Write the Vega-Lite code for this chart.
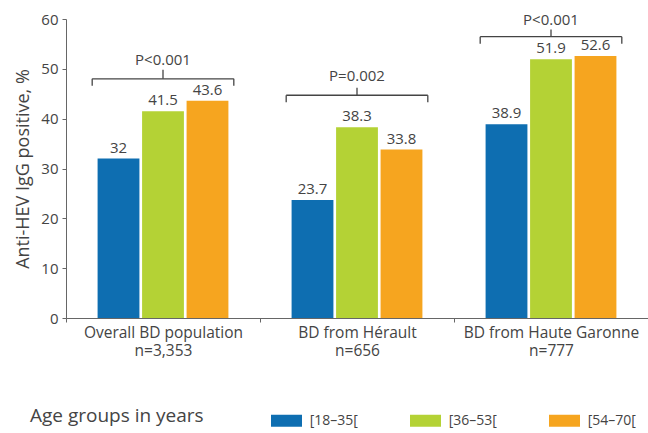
{
  "$schema": "https://vega.github.io/schema/vega-lite/v6.json",
  "width": 582,
  "height": 299,
  "autosize": {"type": "none"},
  "padding": {"left": 66, "top": 19, "right": 0, "bottom": 115},
  "background": "white",
  "config": {"view": {"stroke": null}, "font": "Open Sans"},
  "datasets": {
    "bars": [
      {"group": "Overall BD population|n=3,353", "age": "[18–35[", "value": 32},
      {"group": "Overall BD population|n=3,353", "age": "[36–53[", "value": 41.5},
      {"group": "Overall BD population|n=3,353", "age": "[54–70[", "value": 43.6},
      {"group": "BD from Hérault|n=656", "age": "[18–35[", "value": 23.7},
      {"group": "BD from Hérault|n=656", "age": "[36–53[", "value": 38.3},
      {"group": "BD from Hérault|n=656", "age": "[54–70[", "value": 33.8},
      {"group": "BD from Haute Garonne|n=777", "age": "[18–35[", "value": 38.9},
      {"group": "BD from Haute Garonne|n=777", "age": "[36–53[", "value": 51.9},
      {"group": "BD from Haute Garonne|n=777", "age": "[54–70[", "value": 52.6}
    ],
    "brackets": [
      {"group": "Overall BD population|n=3,353", "p": "P<0.001", "yb": 48.0, "ye": 46.6, "yt": 49.8, "ytext": 50.8},
      {"group": "BD from Hérault|n=656", "p": "P=0.002", "yb": 44.7, "ye": 43.3, "yt": 46.2, "ytext": 47.6},
      {"group": "BD from Haute Garonne|n=777", "p": "P<0.001", "yb": 56.45, "ye": 55.05, "yt": 57.9, "ytext": 58.8}
    ]
  },
  "layer": [
    {
      "data": {"name": "bars"},
      "mark": {"type": "bar"},
      "encoding": {
        "x": {
          "field": "group", "type": "nominal", "sort": null,
          "scale": {"paddingInner": 0, "paddingOuter": 0},
          "axis": {
            "title": null,
            "labelExpr": "split(datum.label, '|')",
            "labelAngle": 0,
            "labelFontSize": 15.5,
            "labelColor": "#444444",
            "labelLineHeight": 18,
            "labelPadding": 3,
            "tickBand": "extent",
            "tickSize": 4,
            "tickColor": "#666666",
            "domainColor": "#666666",
            "grid": false
          }
        },
        "xOffset": {
          "field": "age", "type": "nominal", "sort": null,
          "scale": {"paddingInner": 0.06, "paddingOuter": 0.71}
        },
        "y": {
          "field": "value", "type": "quantitative",
          "scale": {"domain": [0, 60], "nice": false},
          "axis": {
            "title": "Anti-HEV IgG positive, %",
            "titleFontSize": 18,
            "titleFontWeight": "normal",
            "titleColor": "#444444",
            "titlePadding": 8,
            "values": [0, 10, 20, 30, 40, 50, 60],
            "labelFontSize": 15,
            "labelColor": "#444444",
            "labelPadding": 4,
            "tickSize": 4,
            "tickColor": "#666666",
            "domainColor": "#666666",
            "grid": false
          }
        },
        "color": {
          "field": "age", "type": "nominal", "sort": null,
          "scale": {"range": ["#0E6EB1", "#B4D235", "#F6A51F"]},
          "legend": {
            "orient": "none",
            "legendX": -36,
            "legendY": 386,
            "direction": "horizontal",
            "title": "Age groups in years",
            "titleOrient": "left",
            "titleFontSize": 19,
            "titleFontWeight": "normal",
            "titleColor": "#444444",
            "titlePadding": 67,
            "symbolType": "M-1,-0.387H1V0.387H-1Z",
            "symbolSize": 961,
            "symbolStrokeWidth": 0,
            "symbolOpacity": 1,
            "labelFontSize": 14,
            "labelColor": "#444444",
            "labelOffset": 7.7,
            "columnPadding": 52
          }
        }
      }
    },
    {
      "data": {"name": "bars"},
      "mark": {"type": "text", "dy": -6, "baseline": "alphabetic", "fontSize": 15, "color": "#444444"},
      "encoding": {
        "x": {"field": "group", "type": "nominal", "sort": null},
        "xOffset": {"field": "age", "type": "nominal", "sort": null},
        "y": {"field": "value", "type": "quantitative"},
        "text": {"field": "value", "type": "quantitative"}
      }
    },
    {
      "data": {"name": "brackets"},
      "mark": {"type": "rule", "color": "#444444", "strokeWidth": 1.3},
      "encoding": {
        "x": {"field": "group", "type": "nominal", "sort": null, "bandPosition": 0.135},
        "x2": {"field": "group", "bandPosition": 0.865},
        "y": {"field": "yb", "type": "quantitative"}
      }
    },
    {
      "data": {"name": "brackets"},
      "mark": {"type": "rule", "color": "#444444", "strokeWidth": 1.3},
      "encoding": {
        "x": {"field": "group", "type": "nominal", "sort": null, "bandPosition": 0.135},
        "y": {"field": "yb", "type": "quantitative"},
        "y2": {"field": "ye"}
      }
    },
    {
      "data": {"name": "brackets"},
      "mark": {"type": "rule", "color": "#444444", "strokeWidth": 1.3},
      "encoding": {
        "x": {"field": "group", "type": "nominal", "sort": null, "bandPosition": 0.865},
        "y": {"field": "yb", "type": "quantitative"},
        "y2": {"field": "ye"}
      }
    },
    {
      "data": {"name": "brackets"},
      "mark": {"type": "rule", "color": "#444444", "strokeWidth": 1.3},
      "encoding": {
        "x": {"field": "group", "type": "nominal", "sort": null, "bandPosition": 0.5},
        "y": {"field": "yb", "type": "quantitative"},
        "y2": {"field": "yt"}
      }
    },
    {
      "data": {"name": "brackets"},
      "mark": {"type": "text", "baseline": "alphabetic", "fontSize": 15, "color": "#444444"},
      "encoding": {
        "x": {"field": "group", "type": "nominal", "sort": null, "bandPosition": 0.5},
        "y": {"field": "ytext", "type": "quantitative"},
        "text": {"field": "p"}
      }
    }
  ]
}
